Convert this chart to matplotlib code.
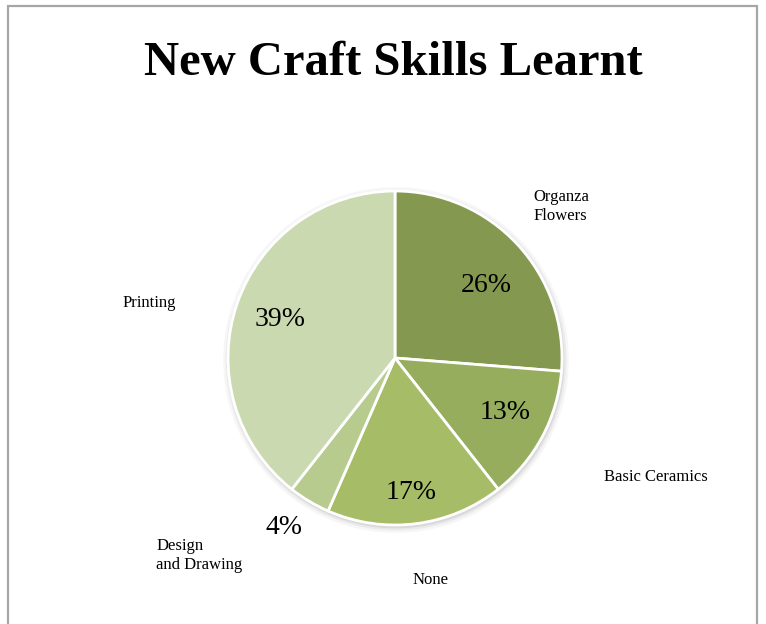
import matplotlib.pyplot as plt
from matplotlib.patches import Circle, Rectangle

# craft survey results, clockwise from 12 o'clock
skills = ['Organza\nFlowers', 'Basic Ceramics', 'None', 'Design\nand Drawing', 'Printing']
shares = [26, 13, 17, 4, 39]
colors = ['#84994f', '#97ad5e', '#a7bc67', '#b8cb8e', '#cbd9b1']

# where each category label / percent label sits (pie radius = 1)
label_pos = [(0.83, 0.91), (1.25, -0.71), (0.21, -1.33), (-1.43, -1.18), (-1.63, 0.33)]
label_ha = ['left', 'left', 'center', 'left', 'left']
pct_pos = [(0.545, 0.437), (0.659, -0.329), (0.096, -0.808), (-0.665, -1.012), (-0.689, 0.228)]

plt.rcParams['font.family'] = ['Liberation Serif', 'DejaVu Serif']

W, H = 766, 624
fig = plt.figure(figsize=(W / 100, H / 100), dpi=100)

# light grey frame around the chart area
fig.patches.append(Rectangle((8 / W, -0.1), (757 - 8) / W, 1.1 - 5.5 / H,
                             transform=fig.transFigure, fill=False,
                             edgecolor='#a6a6a6', linewidth=1.6))

fig.text(393 / W, 1 - 63 / H, 'New Craft Skills Learnt', ha='center', va='center',
         fontsize=35, fontweight='bold')

cx, cy, r = 395, 358, 167
ax = fig.add_axes([(cx - r) / W, (H - cy - r) / H, 2 * r / W, 2 * r / H])

# soft shadow under the pie
for k, a in [(1.035, 0.05), (1.02, 0.08), (1.008, 0.12)]:
    ax.add_patch(Circle((0.006, -0.012), k, color='#606060', alpha=a, lw=0,
                        zorder=0, clip_on=False))

wedges, texts, autotexts = ax.pie(
    shares, labels=skills, colors=colors, startangle=90, counterclock=False,
    autopct='%1.0f%%', wedgeprops=dict(edgecolor='white', linewidth=2),
    textprops=dict(fontsize=12))
for w in wedges:
    w.set_zorder(2)
    w.set_clip_on(False)

for t, p, ha in zip(texts, label_pos, label_ha):
    t.set_position(p)
    t.set_ha(ha)
    t.set_va('center')
    t.set_fontsize(12)
    t.set_linespacing(1.25)
for t, p in zip(autotexts, pct_pos):
    t.set_position(p)
    t.set_ha('center')
    t.set_va('center')
    t.set_fontsize(20)

ax.set_xlim(-1, 1)
ax.set_ylim(-1, 1)
ax.set_aspect('auto')
ax.axis('off')

fig.savefig('out.png', dpi=100)
